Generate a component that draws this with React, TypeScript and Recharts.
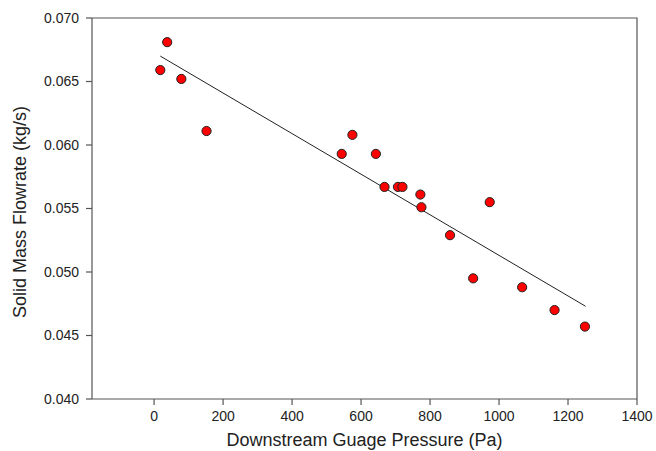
import { ScatterChart, Scatter, XAxis, YAxis } from "recharts";

// pressure (Pa) and flowrate (kg/s)
const pressure = [18, 38, 79, 152, 544, 575, 643, 668, 707, 720, 772, 775, 858, 925, 973, 1067, 1161, 1249];
const flowrate = [
  0.0659, 0.0681, 0.0652, 0.0611, 0.0593, 0.0608, 0.0593, 0.0567, 0.0567, 0.0567,
  0.0561, 0.0551, 0.0529, 0.0495, 0.0555, 0.0488, 0.0470, 0.0457,
];

// fitted line end points
const fitX = [18, 1251];
const fitY = [0.067, 0.0473];

const xTicks = [0, 200, 400, 600, 800, 1000, 1200, 1400];
const yTicks = [0.04, 0.045, 0.05, 0.055, 0.06, 0.065, 0.07];

const points = pressure.map((p, i) => ({ x: p, y: flowrate[i] }));
const fit = fitX.map((p, i) => ({ x: p, y: fitY[i] }));

const axisColor = "#555";
const font = "'Liberation Sans', Arial, sans-serif";

const Dot = (props: any) => (
  <circle cx={props.cx} cy={props.cy} r={4.6} fill="#ff0000" stroke="#222" strokeWidth={1} />
);

// x title plus the top/right edges of the plot box, placed from the label's viewBox
const XTitle = (props: any) => {
  const vb = props.viewBox || { x: 92, y: 399, width: 545, height: 52 };
  const left = vb.x;
  const right = vb.x + vb.width;
  return (
    <g>
      <path d={`M${left},18 H${right} V${vb.y}`} fill="none" stroke={axisColor} strokeWidth={1.2} />
      <text x={left + vb.width / 2} y={446} textAnchor="middle" fontSize={18} fill="#222" fontFamily={font}>
        Downstream Guage Pressure (Pa)
      </text>
    </g>
  );
};

export default function App() {
  return (
    <div style={{ position: "absolute", left: 0, top: 0, width: 656, height: 451, fontFamily: font }}>
      <ScatterChart width={656} height={451} margin={{ top: 18, right: 19, bottom: 0, left: 0 }}>
        <XAxis
          dataKey="x"
          type="number"
          domain={[-180, 1400]}
          ticks={xTicks}
          height={52}
          stroke={axisColor}
          strokeWidth={1.2}
          tickSize={6}
          tickMargin={6}
          tick={{ fill: "#222", fontSize: 14, fontFamily: font }}
          label={{ content: XTitle }}
        />
        <YAxis
          dataKey="y"
          type="number"
          domain={[0.04, 0.07]}
          ticks={yTicks}
          width={92}
          stroke={axisColor}
          strokeWidth={1.2}
          tickSize={6}
          tickMargin={7}
          tickFormatter={(v: number) => v.toFixed(3)}
          tick={{ fill: "#222", fontSize: 14, fontFamily: font }}
          label={{
            content: () => (
              <text
                x={20}
                y={212}
                transform="rotate(-90 20 212)"
                textAnchor="middle"
                dominantBaseline="central"
                fontSize={18}
                fill="#222"
                fontFamily={font}
              >
                Solid Mass Flowrate (kg/s)
              </text>
            ),
          }}
        />
        <Scatter
          data={fit}
          line={{ stroke: "#222", strokeWidth: 1 }}
          shape={() => <g />}
          isAnimationActive={false}
        />
        <Scatter data={points} shape={Dot} isAnimationActive={false} />
      </ScatterChart>
    </div>
  );
}
